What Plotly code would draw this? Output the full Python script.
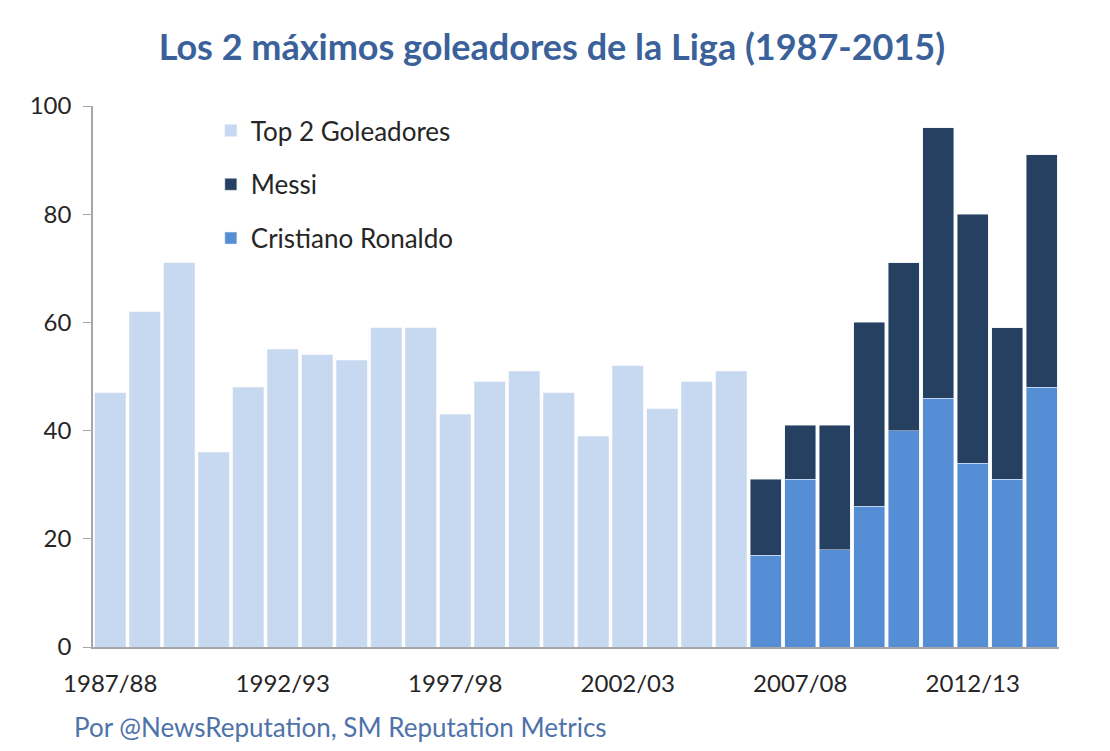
import plotly.graph_objects as go

seasons = [f"{y}/{str(y+1)[-2:]}" for y in range(1987, 2015)]
top2_seasons = seasons[:19]
top2_values = [47, 62, 71, 36, 48, 55, 54, 53, 59, 59, 43, 49, 51, 47, 39, 52, 44, 49, 51]
recent_seasons = seasons[19:]
ronaldo_values = [17, 31, 18, 26, 40, 46, 34, 31, 48]
messi_values = [14, 10, 23, 34, 31, 50, 46, 28, 43]
tick_labels = ["1987/88", "1992/93", "1997/98", "2002/03", "2007/08", "2012/13"]

fig = go.Figure()
fig.add_trace(go.Bar(x=top2_seasons, y=top2_values, name="Top 2 Goleadores",
                     marker_color="#C6D9F1", legendrank=1, legendgroup="a"))
fig.add_trace(go.Bar(x=recent_seasons, y=ronaldo_values, name="Cristiano Ronaldo",
                     marker_color="#558ED5", legendrank=3, legendgroup="c"))
fig.add_trace(go.Bar(x=recent_seasons, y=messi_values, name="Messi",
                     marker_color="#254061", legendrank=2, legendgroup="b"))

fig.update_layout(
    width=1110, height=751,
    barmode="stack", bargap=0.09,
    plot_bgcolor="white", paper_bgcolor="white",
    font=dict(family="Lato, Carlito, sans-serif", size=24, color="#262626"),
    margin=dict(l=85, r=59, t=98, b=112, autoexpand=False),
    title=dict(text="<b>Los 2 máximos goleadores de la Liga (1987-2015)</b>",
               x=0.49, xanchor="center", y=0.947, yanchor="middle",
               font=dict(size=36, color="#3A6199")),
    legend=dict(x=0.122, y=0.998, xanchor="left", yanchor="top",
                bgcolor="rgba(0,0,0,0)", traceorder="grouped", tracegroupgap=17,
                font=dict(size=26, color="#262626")),
    xaxis=dict(type="category", categoryorder="array", categoryarray=seasons,
               range=[-0.5, 27.5], tickmode="array", tickvals=tick_labels,
               ticktext=tick_labels, showline=True, linecolor="#A6A6A6", linewidth=1.5,
               ticks="", ticklabelstandoff=14, tickfont=dict(size=24), showgrid=False,
               automargin=False),
    yaxis=dict(range=[0, 100], dtick=20, showline=True, linecolor="#A6A6A6",
               linewidth=1.5, ticks="outside", ticklen=8, tickcolor="#A6A6A6",
               ticklabelstandoff=7,
               showgrid=False, zeroline=False, tickfont=dict(size=24), automargin=False),
    annotations=[dict(text="Por @NewsReputation, SM Reputation Metrics",
                      xref="paper", yref="paper", x=-0.0217, y=-0.148,
                      xanchor="left", yanchor="middle", showarrow=False,
                      font=dict(size=26, color="#4F72AA"))],
)

fig.write_html("out.html")
